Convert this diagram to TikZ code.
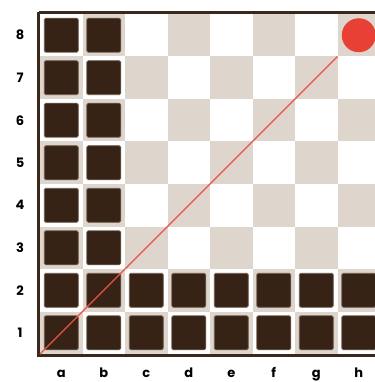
\documentclass[tikz,border=0pt]{standalone}
\usepackage{fontspec}
\setsansfont{Poppins}
\usetikzlibrary{positioning}
\definecolor{boardlight}{RGB}{255,255,255}
\definecolor{boarddark}{RGB}{222,213,204}
\definecolor{piecefill}{RGB}{54,35,21}
\definecolor{pieceedge}{RGB}{110,92,80}
\definecolor{frameink}{RGB}{58,40,28}
\definecolor{marker}{RGB}{233,64,54}
\definecolor{pathline}{RGB}{236,80,70}
\tikzset{
    piece/.style={
        rectangle,
        draw=pieceedge,
        fill=piecefill,
        line width=0.8pt,
        rounded corners=1.5pt,
        minimum size=34pt,
        inner sep=0pt
    },
    goalmark/.style={
        circle,
        fill=marker,
        minimum size=34pt,
        inner sep=0pt
    },
    boardframe/.style={
        draw=frameink,
        line width=3pt
    },
    diagonal/.style={
        draw=pathline,
        line width=1.2pt
    },
    coordlabel/.style={
        font=\sffamily\bfseries\fontsize{13}{15}\selectfont,
        text=black,
        inner sep=0pt
    }
}

\begin{document}
\begin{tikzpicture}[x=1pt, y=-1pt]
\useasboundingbox (0,0) rectangle (374,382);

% Board squares
\fill[boardlight] (40,14) rectangle (380,354);
\foreach \c in {0,...,7}{
    \foreach \r in {0,...,7}{
        \ifodd\numexpr\c+\r\relax
            \fill[boarddark] ({40+42.5*\c},{14+42.5*\r}) rectangle ++(42.5,42.5);
        \fi
    }
}

% Frame
\draw[boardframe] (38.5,12.5) -- (381.5,12.5);
\draw[boardframe] (38.5,12.5) -- (38.5,355.5) -- (381.5,355.5);

% Pieces: files a and b, ranks 3 to 8
\foreach \c/\f in {0/a,1/b}{
    \foreach \n in {3,...,8}{
        \node[piece] (p-\f\n) at ({61.25+42.5*\c},{35.25+42.5*(8-\n)}) {};
    }
}
% Pieces: ranks 1 and 2, all files
\foreach \c/\f in {0/a,1/b,2/c,3/d,4/e,5/f,6/g,7/h}{
    \foreach \n in {1,2}{
        \node[piece] (p-\f\n) at ({61.25+42.5*\c},{35.25+42.5*(8-\n)}) {};
    }
}

% Target on h8
\node[goalmark] (goal) at (358.75,35.25) {};

% Diagonal from a1 corner
\coordinate (start) at (40,354);
\coordinate (h8corner) at (337.5,56.5);
\draw[diagonal] (start) -- (h8corner);

% Rank and file labels
\foreach \n in {1,...,8}{
    \node[coordlabel] (rank-\n) at (20,{35.25+42.5*(8-\n)}) {\n};
}
\foreach \c/\f in {0/a,1/b,2/c,3/d,4/e,5/f,6/g,7/h}{
    \node[coordlabel, anchor=base] (file-\f) at ({61.25+42.5*\c},377.5) {\f};
}

\end{tikzpicture}
\end{document}
